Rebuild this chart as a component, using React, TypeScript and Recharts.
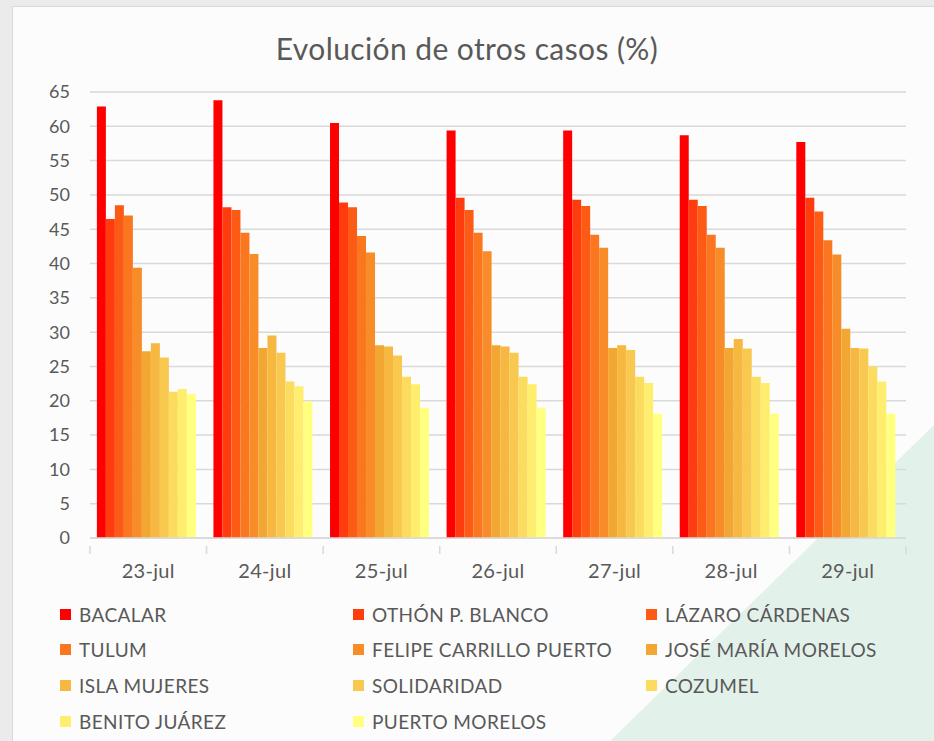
import { BarChart, Bar, XAxis, YAxis, CartesianGrid } from "recharts";

const dates = ["23-jul", "24-jul", "25-jul", "26-jul", "27-jul", "28-jul", "29-jul"];
const yTicks = [0, 5, 10, 15, 20, 25, 30, 35, 40, 45, 50, 55, 60, 65];

const bacalar = [62.9, 63.8, 60.5, 59.4, 59.4, 58.7, 57.7];
const othonPBlanco = [46.5, 48.2, 48.9, 49.6, 49.3, 49.3, 49.6];
const lazaroCardenas = [48.5, 47.8, 48.2, 47.8, 48.4, 48.4, 47.6];
const tulum = [47.0, 44.5, 44.0, 44.5, 44.2, 44.2, 43.4];
const felipeCarrilloPuerto = [39.4, 41.4, 41.6, 41.8, 42.3, 42.3, 41.3];
const joseMariaMorelos = [27.2, 27.7, 28.1, 28.1, 27.7, 27.7, 30.5];
const islaMujeres = [28.4, 29.5, 27.9, 27.9, 28.1, 29.0, 27.7];
const solidaridad = [26.3, 27.0, 26.6, 27.0, 27.4, 27.6, 27.6];
const cozumel = [21.3, 22.8, 23.5, 23.5, 23.5, 23.5, 25.0];
const benitoJuarez = [21.7, 22.1, 22.4, 22.4, 22.6, 22.6, 22.8];
const puertoMorelos = [21.0, 19.9, 19.0, 19.0, 18.1, 18.1, 18.1];

const series = [
  { key: "bacalar", name: "BACALAR", color: "#ff0000", values: bacalar },
  { key: "othon", name: "OTHÓN P. BLANCO", color: "#ff3c0e", values: othonPBlanco },
  { key: "lazaro", name: "LÁZARO CÁRDENAS", color: "#fd5a15", values: lazaroCardenas },
  { key: "tulum", name: "TULUM", color: "#fa7720", values: tulum },
  { key: "felipe", name: "FELIPE CARRILLO PUERTO", color: "#f88c28", values: felipeCarrilloPuerto },
  { key: "jose", name: "JOSÉ MARÍA MORELOS", color: "#f2a733", values: joseMariaMorelos },
  { key: "isla", name: "ISLA MUJERES", color: "#f6b840", values: islaMujeres },
  { key: "solidaridad", name: "SOLIDARIDAD", color: "#f9c84f", values: solidaridad },
  { key: "cozumel", name: "COZUMEL", color: "#fcdc5e", values: cozumel },
  { key: "benito", name: "BENITO JUÁREZ", color: "#ffee6e", values: benitoJuarez },
  { key: "puerto", name: "PUERTO MORELOS", color: "#ffff80", values: puertoMorelos },
];

const data = dates.map((d, i) => {
  const row: Record<string, string | number> = { date: d };
  series.forEach((s) => (row[s.key] = s.values[i]));
  return row;
});

const FONT = "Lato, 'Open Sans', sans-serif";
const TEXT = "#595959";

function DateTick(props: any) {
  const { x, y, payload, index } = props;
  const half = payload?.offset ?? 58.3;
  return (
    <g>
      <line x1={x - half} x2={x - half} y1={y} y2={y + 8} stroke="#d9d9d9" strokeWidth={1.5} />
      {index === dates.length - 1 && (
        <line x1={x + half} x2={x + half} y1={y} y2={y + 8} stroke="#d9d9d9" strokeWidth={1.5} />
      )}
      <text x={x} y={y + 32} textAnchor="middle" fill={TEXT} fontSize={20} letterSpacing={0.3} fontFamily={FONT}>
        {payload.value}
      </text>
    </g>
  );
}

export default function App() {
  const colLeft = [60, 353, 646];
  const rowTop = [614, 649, 685, 721];
  return (
    <div style={{ position: "absolute", left: 0, top: 0, width: 934, height: 741, background: "#ebebeb", overflow: "hidden" }}>
      <div
        style={{
          position: "absolute",
          left: 12,
          top: 6,
          width: 930,
          height: 745,
          background: "#fcfcfc",
          border: "1.5px solid #d9d9d9",
          boxSizing: "border-box",
        }}
      />
      <svg width={934} height={741} style={{ position: "absolute", left: 0, top: 0 }}>
        <polygon points="934,425 934,741 610,741" fill="#e3f1eb" />
      </svg>
      <div
        style={{
          position: "absolute",
          left: 0,
          top: 29,
          width: 934,
          textAlign: "center",
          fontFamily: FONT,
          fontSize: 30,
          letterSpacing: 0.4,
          color: TEXT,
          lineHeight: "38px",
        }}
      >
        Evolución de otros casos (%)
      </div>
      <div style={{ position: "absolute", left: 0, top: 0 }}>
        <BarChart
          width={934}
          height={741}
          data={data}
          margin={{ top: 92, right: 28, bottom: 173, left: 0 }}
          barCategoryGap="5.9%"
          barGap={0}
        >
          <CartesianGrid vertical={false} stroke="#d9d9d9" strokeWidth={1.5} />
          <XAxis
            dataKey="date"
            height={30}
            axisLine={{ stroke: "#d9d9d9", strokeWidth: 1.5 }}
            tickLine={false}
            tick={<DateTick />}
            interval={0}
          />
          <YAxis
            width={90}
            domain={[0, 65]}
            ticks={yTicks}
            interval={0}
            axisLine={false}
            tickLine={false}
            tickSize={0}
            tickMargin={20}
            tick={{ fill: TEXT, fontSize: 18, fontFamily: FONT }}
          />
          {series.map((s) => (
            <Bar key={s.key} dataKey={s.key} name={s.name} fill={s.color} isAnimationActive={false} />
          ))}
        </BarChart>
      </div>
      {series.map((s, i) => {
        const col = i % 3;
        const row = Math.floor(i / 3);
        return (
          <div
            key={s.key}
            style={{
              position: "absolute",
              left: colLeft[col],
              top: rowTop[row] - 12,
              height: 24,
              display: "flex",
              alignItems: "center",
              fontFamily: FONT,
              fontSize: 19,
              letterSpacing: 0.4,
              color: TEXT,
              whiteSpace: "nowrap",
            }}
          >
            <span style={{ display: "inline-block", width: 11, height: 11, background: s.color, marginRight: 8 }} />
            {s.name}
          </div>
        );
      })}
    </div>
  );
}
